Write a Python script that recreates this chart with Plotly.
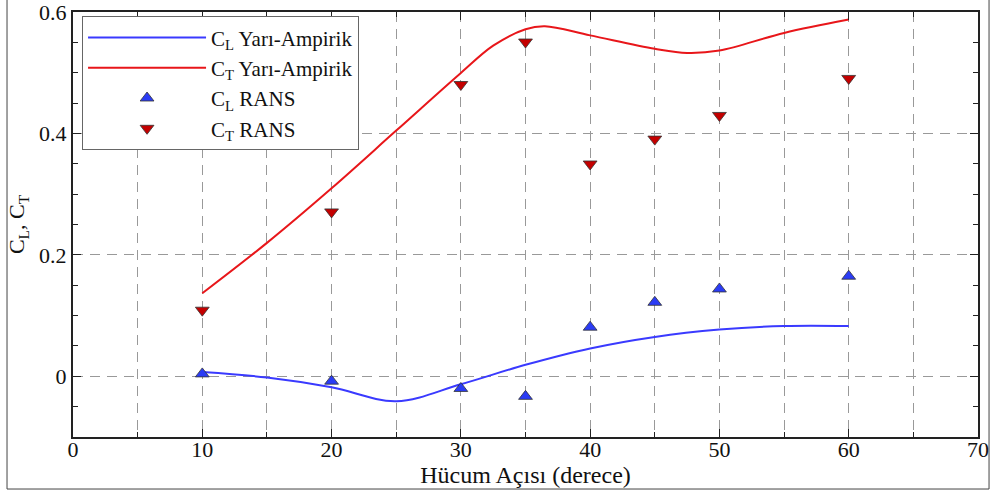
import plotly.graph_objects as go

# Semi-empirical curves
angle_curve = [10, 15, 20, 25, 30, 35, 40, 45, 50, 55, 60]
cl_semi = [0.007, -0.002, -0.018, -0.041, -0.013, 0.019, 0.046, 0.065, 0.077, 0.083, 0.083]
angle_ct_curve = [10, 15, 20, 25, 30, 32.5, 35, 36.5, 40, 45, 47.5, 50, 55, 60]
ct_semi = [0.137, 0.22, 0.31, 0.405, 0.50, 0.545, 0.572, 0.577, 0.562, 0.540, 0.533, 0.537, 0.566, 0.588]

# RANS points
angle_rans = [10, 20, 30, 35, 40, 45, 50, 60]
cl_rans = [0.004, -0.008, -0.020, -0.033, 0.081, 0.122, 0.144, 0.165]
ct_rans = [0.109, 0.271, 0.481, 0.551, 0.350, 0.391, 0.430, 0.491]

x_ticks = [0, 10, 20, 30, 40, 50, 60, 70]
y_ticks = [0, 0.2, 0.4, 0.6]
y_ticktext = ["0", "0.2", "0.4", "0.6"]

FONT = "Liberation Serif"

fig = go.Figure()
fig.add_trace(go.Scatter(x=angle_curve, y=cl_semi, mode="lines",
                         line=dict(color="#3a3aff", width=2, shape="spline", smoothing=1.0),
                         name="C<sub>L</sub> Yarı-Ampirik"))
fig.add_trace(go.Scatter(x=angle_ct_curve, y=ct_semi, mode="lines",
                         line=dict(color="#e8161a", width=2, shape="spline", smoothing=1.0),
                         name="C<sub>T</sub> Yarı-Ampirik"))
fig.add_trace(go.Scatter(x=angle_rans, y=cl_rans, mode="markers",
                         marker=dict(symbol="triangle-up", size=12, color="#2b3cf5",
                                     line=dict(color="#333333", width=0.8)),
                         name="C<sub>L</sub> RANS"))
fig.add_trace(go.Scatter(x=angle_rans, y=ct_rans, mode="markers",
                         marker=dict(symbol="triangle-down", size=12, color="#c40000",
                                     line=dict(color="#333333", width=0.8)),
                         name="C<sub>T</sub> RANS"))

axis_common = dict(
    showline=True, linecolor="#222222", linewidth=2, mirror="ticks",
    ticks="inside", ticklen=8, tickwidth=1.2, tickcolor="#222222",
    showgrid=True, gridcolor="#999999", gridwidth=1, griddash="10px,7px",
    zeroline=False, automargin=False,
    tickfont=dict(family=FONT, size=22, color="#111111"),
)

fig.update_xaxes(
    range=[0, 70], tickvals=x_ticks, ticklabelstandoff=-8, **axis_common,
    minor=dict(dtick=5, tick0=0, ticks="inside", ticklen=5, tickcolor="#222222",
               showgrid=True, gridcolor="#999999", griddash="10px,7px", gridwidth=1),
    title=dict(text="Hücum Açısı (derece)", font=dict(family=FONT, size=24, color="#111111"),
               standoff=0),
)
fig.update_yaxes(
    range=[-0.1, 0.6005], tickvals=y_ticks, ticktext=y_ticktext, **axis_common,
    minor=dict(dtick=0.05, tick0=0, ticks="inside", ticklen=5, tickcolor="#222222", showgrid=False),
    title=dict(text="C<sub>L</sub>, C<sub>T</sub>", font=dict(family=FONT, size=22, color="#111111"),
               standoff=8),
)

fig.add_shape(type="rect", xref="paper", yref="paper",
              x0=-0.0729, x1=1.0122, y0=-0.1224, y1=1.05,
              line=dict(color="#444444", width=1), fillcolor="rgba(0,0,0,0)", layer="below")

fig.update_layout(
    width=991, height=495,
    margin=dict(l=73, r=13, t=12, b=58),
    paper_bgcolor="white", plot_bgcolor="white",
    font=dict(family=FONT, size=22, color="#111111"),
    legend=dict(x=0.01, y=0.99, xanchor="left", yanchor="top",
                bgcolor="white", bordercolor="#666666", borderwidth=1,
                font=dict(family=FONT, size=21, color="#111111"),
                itemwidth=118, tracegroupgap=0),
    showlegend=True,
)

fig.write_html("out.html", config={"displayModeBar": False},
               post_script="document.body.style.margin='0';")
